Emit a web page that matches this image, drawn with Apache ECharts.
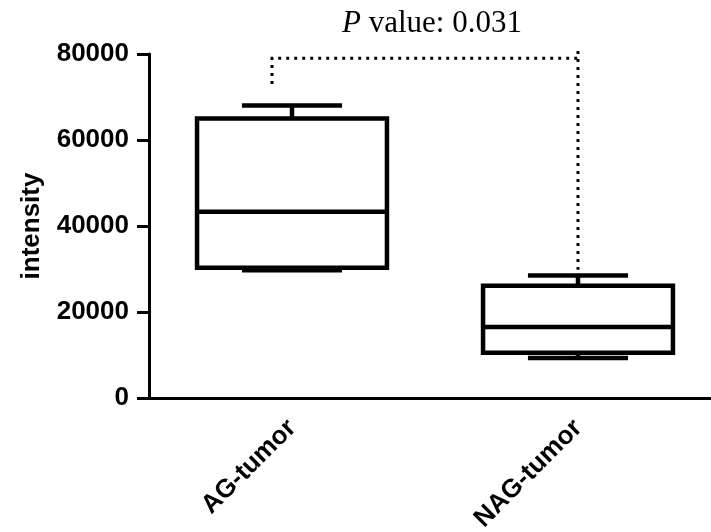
<!DOCTYPE html>
<html>
<head>
<meta charset="utf-8">
<script src="https://cdn.jsdelivr.net/npm/echarts@6/dist/echarts.min.js"></script>
<style>
  html, body { margin: 0; padding: 0; background: #fff; }
  #chart { width: 711px; height: 532px; }
</style>
</head>
<body>
<div id="chart"></div>
<script>
// groups and box statistics
const categories = ['AG-tumor', 'NAG-tumor'];
const mins    = [29700, 9300];
const q1s     = [30300, 10500];
const medians = [43300, 16500];
const q3s     = [65000, 26100];
const maxs    = [68000, 28500];

// significance bracket (values)
const bracketTop = 79000;
const bracketLeftEnd = 73000;
const bracketRightStart = 80700;
const bracketRightEnd = 29800;

const yTicks = { min: 0, max: 80000, interval: 20000 };

const boxData = categories.map((c, i) => [i, mins[i], q1s[i], medians[i], q3s[i], maxs[i]]);

const chart = echarts.init(document.getElementById('chart'));

const lineStyle = { stroke: '#000', lineWidth: 4.5, fill: null };

function renderBox(params, api) {
  const idx = api.value(0);
  const band = api.size([1, 0])[0];
  const half = band * 0.332;
  const capHalf = band * 0.175;
  const pMin = api.coord([idx, api.value(1)]);
  const pQ1 = api.coord([idx, api.value(2)]);
  const pMed = api.coord([idx, api.value(3)]);
  const pQ3 = api.coord([idx, api.value(4)]);
  const pMax = api.coord([idx, api.value(5)]);
  const x = pMed[0];
  return {
    type: 'group',
    children: [
      { type: 'line', shape: { x1: x, y1: pMax[1], x2: x, y2: pQ3[1] }, style: lineStyle },
      { type: 'line', shape: { x1: x, y1: pQ1[1], x2: x, y2: pMin[1] }, style: lineStyle },
      { type: 'line', shape: { x1: x - capHalf, y1: pMax[1], x2: x + capHalf, y2: pMax[1] }, style: lineStyle },
      { type: 'line', shape: { x1: x - capHalf, y1: pMin[1], x2: x + capHalf, y2: pMin[1] }, style: lineStyle },
      { type: 'rect', shape: { x: x - half, y: pQ3[1], width: half * 2, height: pQ1[1] - pQ3[1] },
        style: { stroke: '#000', lineWidth: 4.5, fill: 'transparent' } },
      { type: 'line', shape: { x1: x - half, y1: pMed[1], x2: x + half, y2: pMed[1] }, style: lineStyle }
    ]
  };
}

function renderBracket(params, api) {
  if (params.dataIndex !== 0) return null;
  const a = api.coord([0, bracketTop]);
  const b = api.coord([1, bracketTop]);
  const aEnd = api.coord([0, bracketLeftEnd]);
  const bStart = api.coord([1, bracketRightStart]);
  const bEnd = api.coord([1, bracketRightEnd]);
  const xl = a[0] - 20;
  const st = { stroke: '#000', lineWidth: 3, lineDash: [3, 5], fill: null };
  return {
    type: 'group',
    children: [
      { type: 'polyline', shape: { points: [[xl, aEnd[1]], [xl, a[1]], [b[0], a[1]]] }, style: st },
      { type: 'line', shape: { x1: b[0], y1: bStart[1], x2: b[0], y2: bEnd[1] }, style: st }
    ]
  };
}

const option = {
  animation: false,
  backgroundColor: '#fff',
  title: {
    text: '{i|P} value: 0.031',
    left: 337,
    top: 3,
    textStyle: {
      fontFamily: 'Liberation Serif',
      fontSize: 31,
      fontWeight: 'normal',
      color: '#000',
      rich: {
        i: { fontFamily: 'Liberation Serif', fontSize: 31, fontStyle: 'italic', color: '#000' }
      }
    }
  },
  grid: { left: 149, top: 54, bottom: 134, right: -10, outerBoundsMode: 'none', containLabel: false },
  xAxis: {
    type: 'category',
    data: categories,
    boundaryGap: true,
    axisLine: { lineStyle: { color: '#000', width: 3 } },
    axisTick: { alignWithLabel: true, length: 12, lineStyle: { color: '#000', width: 3 } },
    axisLabel: {
      rotate: 45,
      margin: 26,
      color: '#000',
      fontFamily: 'Liberation Sans',
      fontWeight: 'bold',
      fontSize: 26
    }
  },
  yAxis: {
    type: 'value',
    min: yTicks.min,
    max: yTicks.max,
    interval: yTicks.interval,
    name: 'intensity',
    nameLocation: 'middle',
    nameRotate: 90,
    nameGap: 104,
    nameTextStyle: { color: '#000', fontFamily: 'Liberation Sans', fontWeight: 'bold', fontSize: 26 },
    axisLine: { show: true, lineStyle: { color: '#000', width: 3 } },
    axisTick: { show: true, length: 12, lineStyle: { color: '#000', width: 3 } },
    splitLine: { show: false },
    axisLabel: {
      margin: 20,
      color: '#000',
      fontFamily: 'Liberation Sans',
      fontWeight: 'bold',
      fontSize: 26,
      formatter: v => String(v)
    }
  },
  series: [
    {
      type: 'custom',
      renderItem: renderBox,
      data: boxData,
      encode: { x: 0, y: [1, 2, 3, 4, 5] },
      z: 3
    },
    {
      type: 'custom',
      renderItem: renderBracket,
      data: boxData,
      encode: { x: 0, y: [1, 5] },
      z: 2
    }
  ]
};

chart.setOption(option);
</script>
</body>
</html>
